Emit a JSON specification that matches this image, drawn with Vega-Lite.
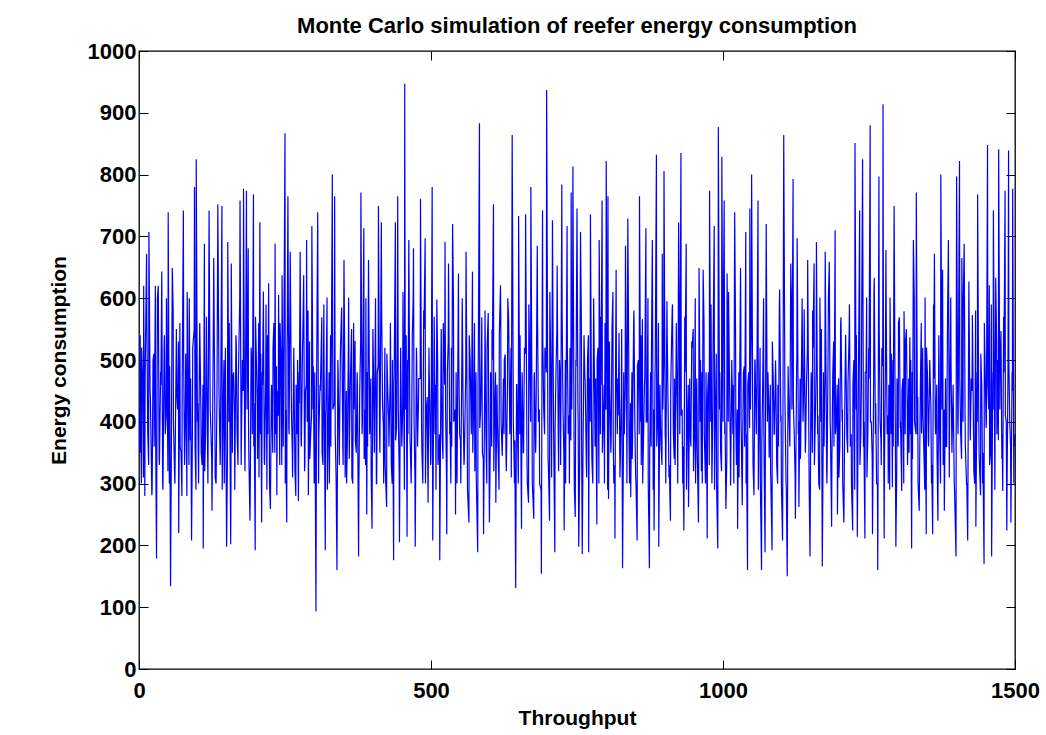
{
  "$schema": "https://vega.github.io/schema/vega-lite/v6.json",
  "width": 876,
  "height": 618,
  "autosize": {"type": "none"},
  "padding": {"left": 139, "top": 51, "right": 31, "bottom": 66},
  "background": "white",
  "title": {"text": "Monte Carlo simulation of reefer energy consumption", "font": "Liberation Sans", "fontSize": 22, "fontWeight": "bold", "color": "black", "offset": 2, "anchor": "middle"},
  "config": {"view": {"stroke": "black", "strokeWidth": 1.3}, "axis": {"grid": false, "domain": false, "labelFont": "Liberation Sans", "labelFontSize": 22, "labelFontWeight": "bold", "labelColor": "black", "labelFlush": false, "labelOverlap": false, "format": "d", "titleFont": "Liberation Sans", "titleFontSize": 21, "titleFontWeight": "bold", "titleColor": "black", "tickColor": "black", "tickSize": -9, "tickWidth": 1}},
  "layer": [
    {
      "data": {"values": [
{"x":0,"y":410},{"x":2,"y":540},{"x":4,"y":300},{"x":6,"y":470},{"x":8,"y":620},{"x":10,"y":280},{"x":13,"y":672},{"x":15,"y":380},{"x":17,"y":707},{"x":19,"y":450},{"x":22,"y":281},{"x":24,"y":500},{"x":26,"y":360},{"x":28,"y":620},{"x":30,"y":179},{"x":33,"y":620},{"x":35,"y":330},{"x":37,"y":480},{"x":39,"y":643},{"x":41,"y":290},{"x":43,"y":520},{"x":45,"y":380},{"x":47,"y":600},{"x":50,"y":739},{"x":52,"y":300},{"x":54,"y":134},{"x":57,"y":649},{"x":59,"y":400},{"x":61,"y":310},{"x":64,"y":550},{"x":66,"y":420},{"x":68,"y":220},{"x":70,"y":560},{"x":72,"y":350},{"x":74,"y":470},{"x":76,"y":742},{"x":78,"y":330},{"x":80,"y":510},{"x":82,"y":280},{"x":84,"y":450},{"x":86,"y":600},{"x":88,"y":370},{"x":90,"y":208},{"x":92,"y":520},{"x":95,"y":780},{"x":96,"y":360},{"x":98,"y":825},{"x":100,"y":400},{"x":102,"y":300},{"x":104,"y":560},{"x":106,"y":420},{"x":108,"y":330},{"x":110,"y":195},{"x":112,"y":688},{"x":114,"y":380},{"x":116,"y":500},{"x":118,"y":300},{"x":120,"y":742},{"x":122,"y":420},{"x":125,"y":256},{"x":128,"y":665},{"x":130,"y":390},{"x":132,"y":300},{"x":135,"y":752},{"x":137,"y":450},{"x":139,"y":330},{"x":142,"y":749},{"x":144,"y":420},{"x":146,"y":300},{"x":148,"y":520},{"x":150,"y":198},{"x":152,"y":691},{"x":154,"y":400},{"x":157,"y":202},{"x":158,"y":656},{"x":160,"y":350},{"x":162,"y":480},{"x":164,"y":290},{"x":166,"y":540},{"x":168,"y":380},{"x":170,"y":460},{"x":173,"y":758},{"x":175,"y":330},{"x":177,"y":500},{"x":179,"y":777},{"x":181,"y":350},
{"x":184,"y":774},{"x":185,"y":420},{"x":187,"y":681},{"x":188,"y":350},{"x":190,"y":240},{"x":192,"y":520},{"x":194,"y":380},{"x":196,"y":768},{"x":197,"y":430},{"x":199,"y":192},{"x":201,"y":500},{"x":203,"y":340},{"x":205,"y":560},{"x":207,"y":723},{"x":208,"y":380},{"x":210,"y":237},{"x":211,"y":480},{"x":213,"y":611},{"x":215,"y":330},{"x":217,"y":470},{"x":219,"y":290},{"x":220,"y":540},{"x":222,"y":624},{"x":223,"y":400},{"x":225,"y":259},{"x":227,"y":460},{"x":229,"y":350},{"x":231,"y":560},{"x":233,"y":688},{"x":234,"y":380},{"x":236,"y":281},{"x":237,"y":450},{"x":239,"y":605},{"x":241,"y":330},{"x":243,"y":500},{"x":245,"y":637},{"x":247,"y":360},{"x":248,"y":520},{"x":250,"y":867},{"x":251,"y":420},{"x":253,"y":237},{"x":254,"y":560},{"x":255,"y":765},{"x":257,"y":380},{"x":259,"y":675},{"x":261,"y":420},{"x":263,"y":310},{"x":265,"y":520},{"x":267,"y":323},{"x":269,"y":460},{"x":271,"y":380},{"x":273,"y":272},{"x":274,"y":480},{"x":276,"y":675},{"x":278,"y":360},{"x":280,"y":520},{"x":282,"y":637},{"x":284,"y":330},{"x":285,"y":450},{"x":287,"y":694},{"x":288,"y":400},{"x":290,"y":281},{"x":292,"y":530},{"x":294,"y":380},{"x":296,"y":717},{"x":298,"y":420},{"x":300,"y":300},{"x":301,"y":480},{"x":303,"y":93},{"x":304,"y":450},{"x":306,"y":739},{"x":308,"y":380},{"x":310,"y":460},{"x":313,"y":569},{"x":315,"y":330},{"x":317,"y":480},{"x":319,"y":192},{"x":320,"y":420},{"x":322,"y":601},{"x":324,"y":380},{"x":326,"y":300},{"x":328,"y":540},{"x":331,"y":800},{"x":332,"y":420},{"x":335,"y":765},{"x":336,"y":380},{"x":339,"y":160},{"x":341,"y":480},{"x":343,"y":330},{"x":345,"y":520},{"x":347,"y":585},{"x":349,"y":360},{"x":351,"y":662},{"x":353,"y":310},{"x":355,"y":450},{"x":357,"y":380},{"x":359,"y":601},{"x":360,"y":340},{"x":362,"y":470},{"x":364,"y":550},{"x":366,"y":300},{"x":368,"y":420},{"x":370,"y":531},{"x":372,"y":350},{"x":374,"y":460},
{"x":376,"y":182},{"x":378,"y":450},{"x":380,"y":771},{"x":382,"y":380},{"x":385,"y":713},{"x":386,"y":420},{"x":388,"y":330},{"x":390,"y":250},{"x":391,"y":480},{"x":393,"y":662},{"x":395,"y":380},{"x":397,"y":470},{"x":399,"y":227},{"x":401,"y":520},{"x":403,"y":350},{"x":405,"y":600},{"x":407,"y":300},{"x":408,"y":480},{"x":410,"y":749},{"x":412,"y":380},{"x":415,"y":723},{"x":417,"y":430},{"x":419,"y":300},{"x":421,"y":520},{"x":424,"y":262},{"x":426,"y":450},{"x":428,"y":360},{"x":430,"y":464},{"x":432,"y":330},{"x":434,"y":500},{"x":436,"y":176},{"x":437,"y":480},{"x":439,"y":723},{"x":441,"y":390},{"x":443,"y":765},{"x":444,"y":420},{"x":446,"y":205},{"x":448,"y":520},{"x":450,"y":360},{"x":452,"y":610},{"x":455,"y":947},{"x":456,"y":420},{"x":459,"y":214},{"x":460,"y":500},{"x":462,"y":694},{"x":464,"y":380},{"x":466,"y":300},{"x":468,"y":540},{"x":470,"y":681},{"x":471,"y":400},{"x":473,"y":198},{"x":475,"y":520},{"x":477,"y":360},{"x":479,"y":470},{"x":482,"y":761},{"x":484,"y":380},{"x":486,"y":300},{"x":488,"y":550},{"x":490,"y":697},{"x":492,"y":420},{"x":495,"y":269},{"x":497,"y":480},{"x":500,"y":350},{"x":502,"y":780},{"x":503,"y":208},{"x":505,"y":500},{"x":507,"y":380},{"x":508,"y":460},{"x":510,"y":598},{"x":512,"y":330},{"x":515,"y":176},{"x":517,"y":480},{"x":519,"y":380},{"x":521,"y":560},{"x":524,"y":691},{"x":525,"y":420},{"x":527,"y":218},{"x":528,"y":480},{"x":530,"y":656},{"x":532,"y":380},{"x":534,"y":300},{"x":535,"y":520},{"x":537,"y":720},{"x":539,"y":400},{"x":542,"y":250},{"x":543,"y":480},{"x":545,"y":360},{"x":547,"y":640},{"x":549,"y":380},{"x":551,"y":300},{"x":553,"y":520},{"x":555,"y":420},{"x":557,"y":340},{"x":560,"y":675},
{"x":562,"y":400},{"x":565,"y":237},{"x":567,"y":500},{"x":569,"y":380},{"x":571,"y":643},{"x":573,"y":420},{"x":575,"y":320},{"x":577,"y":480},{"x":580,"y":189},{"x":581,"y":500},{"x":583,"y":883},{"x":585,"y":420},{"x":587,"y":569},{"x":588,"y":350},{"x":590,"y":218},{"x":592,"y":470},{"x":594,"y":380},{"x":596,"y":520},{"x":598,"y":576},{"x":599,"y":400},{"x":600,"y":237},{"x":602,"y":480},{"x":604,"y":360},{"x":605,"y":500},{"x":607,"y":752},{"x":609,"y":420},{"x":611,"y":269},{"x":613,"y":460},{"x":615,"y":350},{"x":617,"y":540},{"x":619,"y":621},{"x":620,"y":400},{"x":622,"y":345},{"x":624,"y":470},{"x":625,"y":380},{"x":627,"y":509},{"x":629,"y":320},{"x":631,"y":460},{"x":633,"y":563},{"x":635,"y":380},{"x":637,"y":520},{"x":639,"y":864},{"x":641,"y":400},{"x":643,"y":300},{"x":645,"y":131},{"x":647,"y":460},{"x":650,"y":733},{"x":652,"y":380},{"x":655,"y":227},{"x":656,"y":480},{"x":658,"y":350},{"x":660,"y":520},{"x":662,"y":736},{"x":664,"y":400},{"x":665,"y":300},{"x":667,"y":269},{"x":669,"y":500},{"x":671,"y":780},{"x":673,"y":420},{"x":676,"y":243},{"x":677,"y":480},{"x":679,"y":350},{"x":682,"y":685},{"x":684,"y":400},{"x":686,"y":300},{"x":689,"y":154},{"x":690,"y":480},{"x":691,"y":742},{"x":693,"y":420},{"x":695,"y":520},{"x":698,"y":937},{"x":700,"y":420},{"x":701,"y":330},{"x":703,"y":240},{"x":705,"y":500},{"x":708,"y":726},{"x":710,"y":380},{"x":712,"y":189},{"x":714,"y":480},{"x":716,"y":653},{"x":718,"y":360},{"x":720,"y":500},{"x":722,"y":330},{"x":724,"y":784},{"x":726,"y":420},{"x":728,"y":224},{"x":730,"y":500},{"x":733,"y":717},{"x":735,"y":380},{"x":737,"y":300},{"x":738,"y":520},{"x":740,"y":771},{"x":741,"y":420},{"x":743,"y":813},{"x":745,"y":360},{"x":747,"y":246},{"x":748,"y":500},
{"x":750,"y":745},{"x":752,"y":400},{"x":753,"y":198},{"x":755,"y":480},{"x":756,"y":707},{"x":758,"y":350},{"x":759,"y":186},{"x":761,"y":420},{"x":762,"y":540},{"x":764,"y":467},{"x":766,"y":330},{"x":768,"y":500},{"x":770,"y":189},{"x":771,"y":470},{"x":773,"y":736},{"x":775,"y":380},{"x":777,"y":300},{"x":779,"y":557},{"x":781,"y":360},{"x":782,"y":470},{"x":784,"y":234},{"x":786,"y":520},{"x":788,"y":694},{"x":790,"y":380},{"x":791,"y":460},{"x":793,"y":758},{"x":795,"y":400},{"x":797,"y":300},{"x":798,"y":560},{"x":800,"y":822},{"x":802,"y":420},{"x":803,"y":765},{"x":804,"y":275},{"x":806,"y":460},{"x":808,"y":350},{"x":810,"y":553},{"x":812,"y":380},{"x":813,"y":300},{"x":815,"y":211},{"x":816,"y":480},{"x":817,"y":646},{"x":819,"y":380},{"x":820,"y":470},{"x":822,"y":544},{"x":824,"y":330},{"x":826,"y":450},{"x":828,"y":163},{"x":830,"y":480},{"x":831,"y":380},{"x":833,"y":685},{"x":835,"y":420},{"x":837,"y":729},{"x":839,"y":380},{"x":840,"y":300},{"x":842,"y":278},{"x":844,"y":480},{"x":845,"y":360},{"x":847,"y":563},{"x":849,"y":400},{"x":851,"y":300},{"x":853,"y":208},{"x":855,"y":500},{"x":857,"y":765},{"x":859,"y":400},{"x":860,"y":330},{"x":862,"y":566},{"x":864,"y":380},{"x":866,"y":470},{"x":868,"y":713},{"x":870,"y":400},{"x":872,"y":300},{"x":874,"y":163},{"x":876,"y":480},{"x":877,"y":360},{"x":879,"y":694},{"x":881,"y":420},{"x":882,"y":224},{"x":884,"y":500},{"x":886,"y":832},{"x":888,"y":400},{"x":890,"y":198},{"x":892,"y":460},{"x":894,"y":360},{"x":896,"y":672},{"x":897,"y":420},{"x":899,"y":806},{"x":901,"y":380},{"x":902,"y":300},{"x":904,"y":595},{"x":906,"y":420},{"x":908,"y":330},{"x":910,"y":240},{"x":911,"y":480},{"x":913,"y":582},{"x":915,"y":380},{"x":917,"y":470},{"x":918,"y":330},{"x":920,"y":560},{"x":922,"y":400},{"x":924,"y":723},{"x":926,"y":380},{"x":928,"y":835},{"x":930,"y":420},{"x":931,"y":300},{"x":933,"y":224},{"x":935,"y":480},{"x":937,"y":688},
{"x":939,"y":400},{"x":941,"y":262},{"x":943,"y":470},{"x":945,"y":360},{"x":947,"y":520},{"x":949,"y":550},{"x":951,"y":380},{"x":953,"y":300},{"x":955,"y":470},{"x":956,"y":350},{"x":958,"y":237},{"x":959,"y":649},{"x":961,"y":400},{"x":963,"y":320},{"x":964,"y":480},{"x":966,"y":646},{"x":968,"y":380},{"x":970,"y":300},{"x":971,"y":480},{"x":973,"y":211},{"x":975,"y":480},{"x":977,"y":774},{"x":979,"y":400},{"x":981,"y":300},{"x":983,"y":520},{"x":985,"y":717},{"x":987,"y":420},{"x":989,"y":300},{"x":991,"y":195},{"x":992,"y":877},{"x":994,"y":420},{"x":996,"y":350},{"x":998,"y":829},{"x":1000,"y":400},{"x":1002,"y":758},{"x":1003,"y":380},{"x":1005,"y":259},{"x":1007,"y":640},{"x":1009,"y":400},{"x":1011,"y":480},{"x":1013,"y":297},{"x":1015,"y":500},{"x":1017,"y":380},{"x":1018,"y":460},{"x":1020,"y":739},{"x":1022,"y":400},{"x":1023,"y":330},{"x":1025,"y":227},{"x":1027,"y":480},{"x":1028,"y":380},{"x":1030,"y":649},{"x":1031,"y":400},{"x":1033,"y":265},{"x":1035,"y":480},{"x":1037,"y":360},{"x":1039,"y":707},{"x":1040,"y":380},{"x":1042,"y":160},{"x":1044,"y":480},{"x":1046,"y":745},{"x":1047,"y":420},{"x":1049,"y":800},{"x":1051,"y":400},{"x":1053,"y":281},{"x":1055,"y":500},{"x":1057,"y":380},{"x":1058,"y":460},{"x":1060,"y":758},{"x":1062,"y":400},{"x":1064,"y":300},{"x":1066,"y":160},{"x":1068,"y":460},{"x":1070,"y":380},{"x":1072,"y":189},{"x":1074,"y":720},{"x":1076,"y":400},{"x":1077,"y":480},{"x":1079,"y":342},{"x":1081,"y":460},{"x":1082,"y":300},{"x":1084,"y":192},{"x":1086,"y":470},{"x":1088,"y":380},{"x":1090,"y":499},{"x":1092,"y":330},{"x":1094,"y":460},{"x":1095,"y":360},{"x":1097,"y":614},{"x":1099,"y":400},{"x":1100,"y":300},{"x":1102,"y":208},{"x":1104,"y":864},{"x":1106,"y":441},{"x":1108,"y":300},{"x":1110,"y":150},{"x":1112,"y":460},{"x":1114,"y":380},{"x":1116,"y":656},{"x":1118,"y":420},{"x":1120,"y":793},{"x":1122,"y":380},{"x":1124,"y":243},
{"x":1126,"y":480},{"x":1127,"y":697},{"x":1129,"y":380},{"x":1130,"y":262},{"x":1132,"y":470},{"x":1133,"y":360},{"x":1135,"y":550},{"x":1137,"y":400},{"x":1139,"y":582},{"x":1141,"y":350},{"x":1143,"y":460},{"x":1145,"y":662},{"x":1147,"y":380},{"x":1149,"y":182},{"x":1151,"y":480},{"x":1153,"y":350},{"x":1154,"y":520},{"x":1156,"y":656},{"x":1158,"y":400},{"x":1160,"y":691},{"x":1162,"y":380},{"x":1164,"y":300},{"x":1166,"y":601},{"x":1168,"y":400},{"x":1170,"y":166},{"x":1172,"y":480},{"x":1173,"y":360},{"x":1175,"y":675},{"x":1177,"y":400},{"x":1178,"y":300},{"x":1180,"y":520},{"x":1182,"y":659},{"x":1184,"y":380},{"x":1186,"y":230},{"x":1188,"y":480},{"x":1190,"y":360},{"x":1192,"y":710},{"x":1194,"y":400},{"x":1196,"y":250},{"x":1198,"y":470},{"x":1200,"y":360},{"x":1202,"y":569},{"x":1204,"y":400},{"x":1205,"y":300},{"x":1207,"y":237},{"x":1209,"y":470},{"x":1210,"y":541},{"x":1212,"y":380},{"x":1214,"y":460},{"x":1216,"y":544},{"x":1218,"y":360},{"x":1220,"y":300},{"x":1222,"y":224},{"x":1224,"y":500},{"x":1226,"y":851},{"x":1228,"y":420},{"x":1230,"y":214},{"x":1232,"y":480},{"x":1234,"y":742},{"x":1236,"y":380},{"x":1237,"y":460},{"x":1239,"y":825},{"x":1241,"y":400},{"x":1243,"y":211},{"x":1245,"y":480},{"x":1246,"y":601},{"x":1248,"y":380},{"x":1250,"y":470},{"x":1252,"y":880},{"x":1254,"y":400},{"x":1256,"y":218},{"x":1258,"y":470},{"x":1259,"y":633},{"x":1261,"y":380},{"x":1263,"y":300},{"x":1265,"y":160},{"x":1266,"y":480},{"x":1267,"y":797},{"x":1269,"y":400},{"x":1271,"y":330},{"x":1272,"y":520},{"x":1274,"y":914},{"x":1275,"y":420},{"x":1276,"y":211},{"x":1278,"y":470},{"x":1279,"y":678},{"x":1281,"y":380},{"x":1283,"y":300},{"x":1284,"y":460},{"x":1286,"y":601},{"x":1288,"y":380},{"x":1290,"y":294},{"x":1291,"y":500},{"x":1293,"y":749},{"x":1295,"y":400},{"x":1296,"y":198},{"x":1298,"y":470},{"x":1300,"y":360},{"x":1302,"y":569},{"x":1304,"y":400},{"x":1306,"y":288},{"x":1308,"y":470},{"x":1310,"y":579},{"x":1312,"y":380},{"x":1314,"y":550},
{"x":1316,"y":330},{"x":1318,"y":470},{"x":1320,"y":537},{"x":1321,"y":380},{"x":1323,"y":195},{"x":1324,"y":480},{"x":1326,"y":694},{"x":1328,"y":400},{"x":1331,"y":771},{"x":1333,"y":380},{"x":1334,"y":300},{"x":1336,"y":256},{"x":1338,"y":460},{"x":1340,"y":381},{"x":1342,"y":520},{"x":1344,"y":350},{"x":1346,"y":601},{"x":1347,"y":380},{"x":1348,"y":218},{"x":1350,"y":480},{"x":1352,"y":360},{"x":1354,"y":500},{"x":1356,"y":422},{"x":1357,"y":300},{"x":1359,"y":218},{"x":1361,"y":470},{"x":1362,"y":672},{"x":1364,"y":380},{"x":1366,"y":460},{"x":1368,"y":240},{"x":1370,"y":500},{"x":1371,"y":380},{"x":1373,"y":800},{"x":1375,"y":420},{"x":1376,"y":646},{"x":1377,"y":330},{"x":1379,"y":256},{"x":1381,"y":470},{"x":1383,"y":360},{"x":1386,"y":694},{"x":1388,"y":400},{"x":1390,"y":601},{"x":1392,"y":350},{"x":1394,"y":460},{"x":1396,"y":300},{"x":1399,"y":182},{"x":1400,"y":797},{"x":1402,"y":400},{"x":1405,"y":822},{"x":1407,"y":380},{"x":1409,"y":665},{"x":1411,"y":400},{"x":1413,"y":688},{"x":1415,"y":360},{"x":1417,"y":300},{"x":1419,"y":208},{"x":1421,"y":627},{"x":1423,"y":400},{"x":1425,"y":470},{"x":1427,"y":573},{"x":1429,"y":380},{"x":1431,"y":300},{"x":1433,"y":230},{"x":1435,"y":480},{"x":1436,"y":768},{"x":1438,"y":400},{"x":1441,"y":281},{"x":1443,"y":460},{"x":1445,"y":350},{"x":1447,"y":170},{"x":1449,"y":480},{"x":1451,"y":400},{"x":1453,"y":848},{"x":1455,"y":420},{"x":1456,"y":621},{"x":1458,"y":350},{"x":1460,"y":182},{"x":1462,"y":480},{"x":1463,"y":742},{"x":1465,"y":400},{"x":1467,"y":633},{"x":1469,"y":380},{"x":1470,"y":500},{"x":1472,"y":841},{"x":1474,"y":420},{"x":1476,"y":547},{"x":1478,"y":380},{"x":1479,"y":288},{"x":1481,"y":480},{"x":1483,"y":774},{"x":1485,"y":400},{"x":1486,"y":224},{"x":1488,"y":480},{"x":1489,"y":839},{"x":1491,"y":400},{"x":1493,"y":237},{"x":1495,"y":480},{"x":1496,"y":777},{"x":1498,"y":300},{"x":1500,"y":360},
{"x":1.5,"y":350},{"x":4.5,"y":520},{"x":7.5,"y":310},{"x":10.5,"y":470},{"x":13.5,"y":560},{"x":16.5,"y":330},{"x":19.5,"y":440},{"x":22.5,"y":290},{"x":25.5,"y":510},{"x":28.5,"y":380},{"x":31.5,"y":600},{"x":34.5,"y":340},{"x":37.5,"y":460},{"x":40.5,"y":300},{"x":43.5,"y":540},{"x":46.5,"y":410},{"x":49.5,"y":320},{"x":52.5,"y":490},{"x":55.5,"y":370},{"x":58.5,"y":580},
{"x":61.5,"y":300},{"x":64.5,"y":450},{"x":67.5,"y":530},{"x":70.5,"y":360},{"x":73.5,"y":280},{"x":76.5,"y":500},{"x":79.5,"y":420},{"x":82.5,"y":610},{"x":85.5,"y":330},{"x":88.5,"y":470},{"x":91.5,"y":390},{"x":94.5,"y":550},{"x":97.5,"y":290},{"x":100.5,"y":430},{"x":103.5,"y":510},{"x":106.5,"y":350},{"x":109.5,"y":460},{"x":112.5,"y":320},{"x":115.5,"y":570},{"x":118.5,"y":400},
{"x":121.5,"y":480},{"x":124.5,"y":340},{"x":127.5,"y":590},{"x":130.5,"y":310},{"x":133.5,"y":440},{"x":136.5,"y":520},{"x":139.5,"y":370},{"x":142.5,"y":290},{"x":145.5,"y":500},{"x":148.5,"y":430},{"x":151.5,"y":350},{"x":154.5,"y":560},{"x":157.5,"y":300},{"x":160.5,"y":470},{"x":163.5,"y":410},{"x":166.5,"y":530},{"x":169.5,"y":330},{"x":172.5,"y":600},{"x":175.5,"y":380},{"x":178.5,"y":450},
{"x":181.5,"y":320},{"x":184.5,"y":540},{"x":187.5,"y":400},{"x":190.5,"y":290},{"x":193.5,"y":480},{"x":196.5,"y":360},{"x":199.5,"y":570},{"x":202.5,"y":420},{"x":205.5,"y":310},{"x":208.5,"y":510},{"x":211.5,"y":460},{"x":214.5,"y":340},{"x":217.5,"y":590},{"x":220.5,"y":380},{"x":223.5,"y":300},{"x":226.5,"y":440},{"x":229.5,"y":520},{"x":232.5,"y":350},{"x":235.5,"y":490},{"x":238.5,"y":410},
{"x":241.5,"y":560},{"x":244.5,"y":330},{"x":247.5,"y":450},{"x":250.5,"y":300},{"x":253.5,"y":520},{"x":256.5,"y":390},{"x":259.5,"y":610},{"x":262.5,"y":350},{"x":265.5,"y":470},{"x":268.5,"y":280},{"x":271.5,"y":500},{"x":274.5,"y":430},{"x":277.5,"y":370},{"x":280.5,"y":540},{"x":283.5,"y":320},{"x":286.5,"y":460},{"x":289.5,"y":580},{"x":292.5,"y":340},{"x":295.5,"y":410},{"x":298.5,"y":490},
{"x":301.5,"y":380},{"x":304.5,"y":520},{"x":307.5,"y":300},{"x":310.5,"y":450},{"x":313.5,"y":350},{"x":316.5,"y":590},{"x":319.5,"y":410},{"x":322.5,"y":290},{"x":325.5,"y":480},{"x":328.5,"y":360},{"x":331.5,"y":540},{"x":334.5,"y":430},{"x":337.5,"y":310},{"x":340.5,"y":500},{"x":343.5,"y":390},{"x":346.5,"y":570},{"x":349.5,"y":330},{"x":352.5,"y":460},{"x":355.5,"y":300},{"x":358.5,"y":520},
{"x":361.5,"y":440},{"x":364.5,"y":310},{"x":367.5,"y":560},{"x":370.5,"y":370},{"x":373.5,"y":480},{"x":376.5,"y":290},{"x":379.5,"y":530},{"x":382.5,"y":400},{"x":385.5,"y":340},{"x":388.5,"y":600},{"x":391.5,"y":360},{"x":394.5,"y":470},{"x":397.5,"y":320},{"x":400.5,"y":550},{"x":403.5,"y":420},{"x":406.5,"y":300},{"x":409.5,"y":490},{"x":412.5,"y":350},{"x":415.5,"y":580},{"x":418.5,"y":390},
{"x":421.5,"y":330},{"x":424.5,"y":510},{"x":427.5,"y":400},{"x":430.5,"y":560},{"x":433.5,"y":300},{"x":436.5,"y":460},{"x":439.5,"y":370},{"x":442.5,"y":590},{"x":445.5,"y":320},{"x":448.5,"y":480},{"x":451.5,"y":420},{"x":454.5,"y":290},{"x":457.5,"y":540},{"x":460.5,"y":380},{"x":463.5,"y":450},{"x":466.5,"y":340},{"x":469.5,"y":600},{"x":472.5,"y":310},{"x":475.5,"y":500},{"x":478.5,"y":430},
{"x":481.5,"y":470},{"x":484.5,"y":350},{"x":487.5,"y":580},{"x":490.5,"y":300},{"x":493.5,"y":440},{"x":496.5,"y":520},{"x":499.5,"y":330},{"x":502.5,"y":410},{"x":505.5,"y":570},{"x":508.5,"y":290},{"x":511.5,"y":490},{"x":514.5,"y":380},{"x":517.5,"y":550},{"x":520.5,"y":340},{"x":523.5,"y":460},{"x":526.5,"y":310},{"x":529.5,"y":530},{"x":532.5,"y":400},{"x":535.5,"y":360},{"x":538.5,"y":590},
{"x":541.5,"y":420},{"x":544.5,"y":300},{"x":547.5,"y":510},{"x":550.5,"y":370},{"x":553.5,"y":600},{"x":556.5,"y":330},{"x":559.5,"y":480},{"x":562.5,"y":290},{"x":565.5,"y":540},{"x":568.5,"y":410},{"x":571.5,"y":350},{"x":574.5,"y":560},{"x":577.5,"y":310},{"x":580.5,"y":460},{"x":583.5,"y":390},{"x":586.5,"y":520},{"x":589.5,"y":340},{"x":592.5,"y":580},{"x":595.5,"y":300},{"x":598.5,"y":470},
{"x":601.5,"y":360},{"x":604.5,"y":550},{"x":607.5,"y":320},{"x":610.5,"y":480},{"x":613.5,"y":410},{"x":616.5,"y":290},{"x":619.5,"y":570},{"x":622.5,"y":380},{"x":625.5,"y":500},{"x":628.5,"y":340},{"x":631.5,"y":600},{"x":634.5,"y":430},{"x":637.5,"y":310},{"x":640.5,"y":520},{"x":643.5,"y":370},{"x":646.5,"y":460},{"x":649.5,"y":300},{"x":652.5,"y":540},{"x":655.5,"y":400},{"x":658.5,"y":350},
{"x":661.5,"y":510},{"x":664.5,"y":330},{"x":667.5,"y":590},{"x":670.5,"y":400},{"x":673.5,"y":300},{"x":676.5,"y":470},{"x":679.5,"y":360},{"x":682.5,"y":560},{"x":685.5,"y":420},{"x":688.5,"y":290},{"x":691.5,"y":530},{"x":694.5,"y":380},{"x":697.5,"y":480},{"x":700.5,"y":340},{"x":703.5,"y":610},{"x":706.5,"y":310},{"x":709.5,"y":450},{"x":712.5,"y":390},{"x":715.5,"y":550},{"x":718.5,"y":320},
{"x":721.5,"y":460},{"x":724.5,"y":580},{"x":727.5,"y":350},{"x":730.5,"y":300},{"x":733.5,"y":520},{"x":736.5,"y":410},{"x":739.5,"y":370},{"x":742.5,"y":590},{"x":745.5,"y":290},{"x":748.5,"y":490},{"x":751.5,"y":430},{"x":754.5,"y":330},{"x":757.5,"y":560},{"x":760.5,"y":380},{"x":763.5,"y":470},{"x":766.5,"y":310},{"x":769.5,"y":540},{"x":772.5,"y":400},{"x":775.5,"y":340},{"x":778.5,"y":600},
{"x":781.5,"y":390},{"x":784.5,"y":500},{"x":787.5,"y":300},{"x":790.5,"y":570},{"x":793.5,"y":350},{"x":796.5,"y":460},{"x":799.5,"y":420},{"x":802.5,"y":290},{"x":805.5,"y":530},{"x":808.5,"y":370},{"x":811.5,"y":610},{"x":814.5,"y":330},{"x":817.5,"y":480},{"x":820.5,"y":410},{"x":823.5,"y":310},{"x":826.5,"y":550},{"x":829.5,"y":360},{"x":832.5,"y":450},{"x":835.5,"y":300},{"x":838.5,"y":520},
{"x":841.5,"y":430},{"x":844.5,"y":340},{"x":847.5,"y":580},{"x":850.5,"y":310},{"x":853.5,"y":490},{"x":856.5,"y":380},{"x":859.5,"y":540},{"x":862.5,"y":300},{"x":865.5,"y":460},{"x":868.5,"y":400},{"x":871.5,"y":600},{"x":874.5,"y":350},{"x":877.5,"y":510},{"x":880.5,"y":290},{"x":883.5,"y":470},{"x":886.5,"y":360},{"x":889.5,"y":560},{"x":892.5,"y":420},{"x":895.5,"y":330},{"x":898.5,"y":500},
{"x":901.5,"y":370},{"x":904.5,"y":540},{"x":907.5,"y":310},{"x":910.5,"y":450},{"x":913.5,"y":590},{"x":916.5,"y":340},{"x":919.5,"y":480},{"x":922.5,"y":300},{"x":925.5,"y":520},{"x":928.5,"y":410},{"x":931.5,"y":360},{"x":934.5,"y":570},{"x":937.5,"y":290},{"x":940.5,"y":460},{"x":943.5,"y":390},{"x":946.5,"y":530},{"x":949.5,"y":320},{"x":952.5,"y":600},{"x":955.5,"y":430},{"x":958.5,"y":350},
{"x":961.5,"y":500},{"x":964.5,"y":300},{"x":967.5,"y":560},{"x":970.5,"y":380},{"x":973.5,"y":440},{"x":976.5,"y":330},{"x":979.5,"y":590},{"x":982.5,"y":410},{"x":985.5,"y":290},{"x":988.5,"y":510},{"x":991.5,"y":370},{"x":994.5,"y":480},{"x":997.5,"y":320},{"x":1000.5,"y":550},{"x":1003.5,"y":400},{"x":1006.5,"y":340},{"x":1009.5,"y":610},{"x":1012.5,"y":360},{"x":1015.5,"y":470},{"x":1018.5,"y":300},
{"x":1021.5,"y":540},{"x":1024.5,"y":420},{"x":1027.5,"y":310},{"x":1030.5,"y":580},{"x":1033.5,"y":350},{"x":1036.5,"y":490},{"x":1039.5,"y":300},{"x":1042.5,"y":460},{"x":1045.5,"y":390},{"x":1048.5,"y":560},{"x":1051.5,"y":330},{"x":1054.5,"y":500},{"x":1057.5,"y":430},{"x":1060.5,"y":290},{"x":1063.5,"y":520},{"x":1066.5,"y":370},{"x":1069.5,"y":600},{"x":1072.5,"y":340},{"x":1075.5,"y":450},{"x":1078.5,"y":410},
{"x":1081.5,"y":320},{"x":1084.5,"y":530},{"x":1087.5,"y":380},{"x":1090.5,"y":470},{"x":1093.5,"y":300},{"x":1096.5,"y":590},{"x":1099.5,"y":410},{"x":1102.5,"y":350},{"x":1105.5,"y":550},{"x":1108.5,"y":290},{"x":1111.5,"y":490},{"x":1114.5,"y":360},{"x":1117.5,"y":570},{"x":1120.5,"y":430},{"x":1123.5,"y":310},{"x":1126.5,"y":510},{"x":1129.5,"y":400},{"x":1132.5,"y":340},{"x":1135.5,"y":600},{"x":1138.5,"y":460},
{"x":1141.5,"y":370},{"x":1144.5,"y":520},{"x":1147.5,"y":300},{"x":1150.5,"y":440},{"x":1153.5,"y":580},{"x":1156.5,"y":330},{"x":1159.5,"y":490},{"x":1162.5,"y":410},{"x":1165.5,"y":290},{"x":1168.5,"y":550},{"x":1171.5,"y":360},{"x":1174.5,"y":470},{"x":1177.5,"y":320},{"x":1180.5,"y":600},{"x":1183.5,"y":400},{"x":1186.5,"y":340},{"x":1189.5,"y":530},{"x":1192.5,"y":380},{"x":1195.5,"y":460},{"x":1198.5,"y":310},
{"x":1201.5,"y":560},{"x":1204.5,"y":420},{"x":1207.5,"y":300},{"x":1210.5,"y":500},{"x":1213.5,"y":350},{"x":1216.5,"y":590},{"x":1219.5,"y":380},{"x":1222.5,"y":460},{"x":1225.5,"y":290},{"x":1228.5,"y":540},{"x":1231.5,"y":410},{"x":1234.5,"y":330},{"x":1237.5,"y":570},{"x":1240.5,"y":360},{"x":1243.5,"y":480},{"x":1246.5,"y":310},{"x":1249.5,"y":520},{"x":1252.5,"y":400},{"x":1255.5,"y":340},{"x":1258.5,"y":610},
{"x":1261.5,"y":430},{"x":1264.5,"y":300},{"x":1267.5,"y":550},{"x":1270.5,"y":370},{"x":1273.5,"y":490},{"x":1276.5,"y":330},{"x":1279.5,"y":580},{"x":1282.5,"y":410},{"x":1285.5,"y":290},{"x":1288.5,"y":510},{"x":1291.5,"y":360},{"x":1294.5,"y":470},{"x":1297.5,"y":320},{"x":1300.5,"y":560},{"x":1303.5,"y":390},{"x":1306.5,"y":450},{"x":1309.5,"y":300},{"x":1312.5,"y":530},{"x":1315.5,"y":420},{"x":1318.5,"y":350},
{"x":1321.5,"y":500},{"x":1324.5,"y":340},{"x":1327.5,"y":600},{"x":1330.5,"y":380},{"x":1333.5,"y":440},{"x":1336.5,"y":310},{"x":1339.5,"y":560},{"x":1342.5,"y":410},{"x":1345.5,"y":290},{"x":1348.5,"y":520},{"x":1351.5,"y":370},{"x":1354.5,"y":480},{"x":1357.5,"y":330},{"x":1360.5,"y":590},{"x":1363.5,"y":400},{"x":1366.5,"y":350},{"x":1369.5,"y":540},{"x":1372.5,"y":300},{"x":1375.5,"y":460},{"x":1378.5,"y":420},
{"x":1381.5,"y":360},{"x":1384.5,"y":570},{"x":1387.5,"y":310},{"x":1390.5,"y":490},{"x":1393.5,"y":430},{"x":1396.5,"y":290},{"x":1399.5,"y":550},{"x":1402.5,"y":380},{"x":1405.5,"y":470},{"x":1408.5,"y":340},{"x":1411.5,"y":600},{"x":1414.5,"y":410},{"x":1417.5,"y":300},{"x":1420.5,"y":520},{"x":1423.5,"y":370},{"x":1426.5,"y":450},{"x":1429.5,"y":320},{"x":1432.5,"y":580},{"x":1435.5,"y":400},{"x":1438.5,"y":350},
{"x":1441.5,"y":510},{"x":1444.5,"y":300},{"x":1447.5,"y":560},{"x":1450.5,"y":390},{"x":1453.5,"y":460},{"x":1456.5,"y":330},{"x":1459.5,"y":590},{"x":1462.5,"y":420},{"x":1465.5,"y":290},{"x":1468.5,"y":530},{"x":1471.5,"y":370},{"x":1474.5,"y":480},{"x":1477.5,"y":340},{"x":1480.5,"y":570},{"x":1483.5,"y":410},{"x":1486.5,"y":310},{"x":1489.5,"y":500},{"x":1492.5,"y":360},{"x":1495.5,"y":450},{"x":1498.5,"y":380}
      ]},
      "mark": {"type": "line", "color": "#0000ff", "strokeWidth": 1.2, "clip": true},
      "encoding": {
        "x": {"field": "x", "type": "quantitative", "title": "Throughput", "scale": {"domain": [0, 1500], "nice": false, "zero": false}, "axis": {"values": [0, 500, 1000, 1500], "labelPadding": 20, "titlePadding": 6, "orient": "bottom"}},
        "y": {"field": "y", "type": "quantitative", "title": "Energy consumption", "scale": {"domain": [0, 1000], "nice": false}, "axis": {"values": [0, 100, 200, 300, 400, 500, 600, 700, 800, 900, 1000], "labelPadding": 12, "titlePadding": 18, "orient": "left"}}
      }
    },
    {
      "data": {"values": [{"x": 0, "y": 0}]},
      "mark": {"type": "point", "opacity": 0},
      "encoding": {
        "x": {"field": "x", "type": "quantitative", "scale": {"domain": [0, 1500], "nice": false, "zero": false}, "axis": {"orient": "top", "values": [0, 500, 1000, 1500], "labels": false, "title": null}},
        "y": {"field": "y", "type": "quantitative", "scale": {"domain": [0, 1000], "nice": false}, "axis": {"orient": "right", "values": [0, 100, 200, 300, 400, 500, 600, 700, 800, 900, 1000], "labels": false, "title": null}}
      }
    }
  ],
  "resolve": {"axis": {"x": "independent", "y": "independent"}}
}
